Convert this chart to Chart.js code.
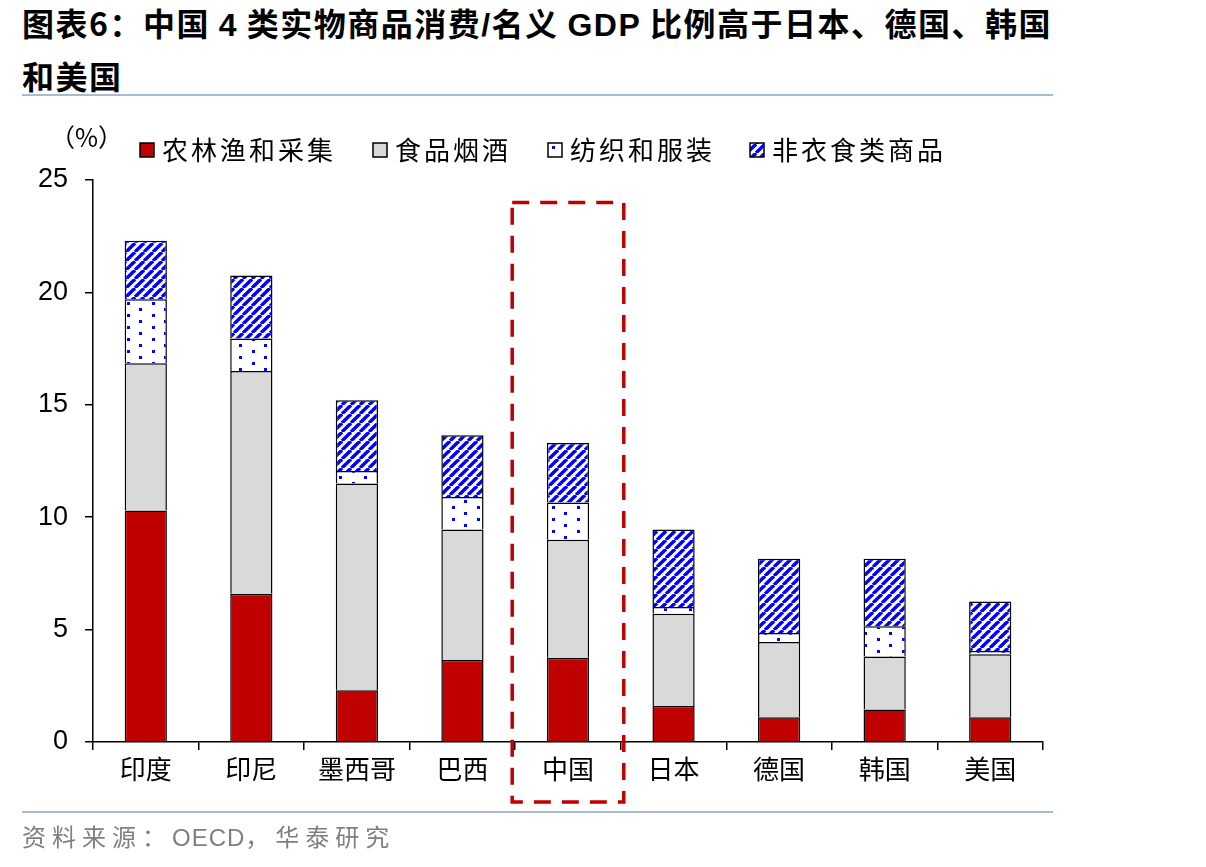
<!DOCTYPE html>
<html>
<head>
<meta charset="utf-8">
<script src="https://cdn.jsdelivr.net/npm/chart.js@4.4.1/dist/chart.umd.min.js"></script>
<style>
  body { margin: 0; background: #fff; width: 1206px; height: 867px; overflow: hidden; position: relative; font-family: "Noto Sans CJK SC", sans-serif; }
  #title { position: absolute; left: 22px; top: -3px; font-size: 32px; font-weight: bold; line-height: 50px; color: #000; letter-spacing: 1.5px; white-space: nowrap; }
  #title .lat { font-family: "Liberation Sans", Arial, sans-serif; }
  .rule { position: absolute; left: 22px; width: 1031px; height: 2px; background: #a9bccf; }
  #source { position: absolute; left: 22px; top: 818px; font-size: 24px; color: #7f7f7f; letter-spacing: 6px; }
  #source .lat { font-family: "Liberation Sans", Arial, sans-serif; letter-spacing: 1px; }
  #wrap { position: absolute; left: 0; top: 0; width: 1206px; height: 867px; }
</style>
</head>
<body>
<div id="title">图表6：中国 <span class="lat">4</span> 类实物商品消费<span class="lat">/</span>名义 <span class="lat">GDP</span> 比例高于日本、德国、韩国<br>和美国</div>
<div class="rule" style="top:94px"></div>
<div id="wrap"><canvas id="chart" width="1206" height="867"></canvas></div>
<div class="rule" style="top:811px"></div>
<div id="source">资料来源：<span class="lat">OECD</span>，华泰研究</div>
<script>
var countries = ["印度", "印尼", "墨西哥", "巴西", "中国", "日本", "德国", "韩国", "美国"];
var seriesNames = ["农林渔和采集", "食品烟酒", "纺织和服装", "非衣食类商品"];
var agri    = [10.3, 6.6, 2.3, 3.65, 3.75, 1.6, 1.1, 1.45, 1.1];
var food    = [6.55, 9.9, 9.2, 5.8, 5.25, 4.1, 3.35, 2.35, 2.8];
var textile = [2.85, 1.45, 0.55, 1.45, 1.65, 0.3, 0.4, 1.35, 0.15];
var other   = [2.6, 2.8, 3.15, 2.75, 2.65, 3.45, 3.3, 3.0, 2.2];
var yTicks  = [0, 5, 10, 15, 20, 25];

function stripes() {
    var c = document.createElement("canvas");
    c.width = 9; c.height = 9;
    var g = c.getContext("2d");
    g.fillStyle = "#fff";
    g.fillRect(0, 0, 9, 9);
    g.strokeStyle = "#0000ff";
    g.lineWidth = 3.4;
    [-9, 0, 9].forEach(function (o) {
        g.beginPath();
        g.moveTo(o, 9);
        g.lineTo(o + 9, 0);
        g.stroke();
    });
    return g.createPattern(c, "repeat");
}

function dots() {
    var c = document.createElement("canvas");
    c.width = 25; c.height = 12;
    var g = c.getContext("2d");
    g.fillStyle = "#fff";
    g.fillRect(0, 0, 25, 12);
    g.fillStyle = "#0000ff";
    g.fillRect(2, 2, 3, 3);
    g.fillRect(14, 8, 3, 3);
    return g.createPattern(c, "repeat");
}

var fills = ["#c00000", "#d9d9d9", dots(), stripes()];

var extras = {
    id: "extras",
    afterDraw: function (chart) {
        var ctx = chart.ctx;
        var x = chart.scales.x, y = chart.scales.y;
        ctx.save();
        ctx.fillStyle = "#000";
        ctx.textBaseline = "middle";
        ctx.font = "25px 'Noto Sans CJK SC'";
        ctx.fillText("（%）", 50, 137);
        var lx = [140, 373, 548, 750];
        seriesNames.forEach(function (name, i) {
            ctx.fillStyle = fills[i];
            ctx.fillRect(lx[i], 143, 14, 14);
            ctx.strokeStyle = "#000";
            ctx.lineWidth = 1.5;
            ctx.strokeRect(lx[i], 143, 14, 14);
            ctx.fillStyle = "#000";
            ctx.font = "26px 'Noto Sans CJK SC'";
            ctx.letterSpacing = "3px";
            ctx.fillText(name, lx[i] + 22, 150);
            ctx.letterSpacing = "0px";
        });
        // dashed box round China
        var cx = x.getPixelForValue(4);
        var half = (x.getPixelForValue(1) - x.getPixelForValue(0)) / 2 + 3;
        ctx.strokeStyle = "#c00000";
        ctx.lineWidth = 3.5;
        ctx.setLineDash([17, 11]);
        ctx.strokeRect(cx - half, y.getPixelForValue(24), half * 2, chart.chartArea.bottom + 60 - y.getPixelForValue(24));
        ctx.restore();
    }
};

new Chart(document.getElementById("chart"), {
    type: "bar",
    data: {
        labels: countries,
        datasets: [agri, food, textile, other].map(function (d, i) {
            return {
                label: seriesNames[i],
                data: d,
                backgroundColor: fills[i],
                borderColor: "#000",
                borderWidth: 1.5,
                categoryPercentage: 0.4,
                barPercentage: 1.0
            };
        })
    },
    options: {
        responsive: false,
        animation: false,
        layout: { padding: { left: 30, top: 180, right: 163, bottom: 65 } },
        plugins: { legend: { display: false }, tooltip: { enabled: false } },
        scales: {
            x: {
                stacked: true,
                afterFit: function (s) { s.height = 60; },
                grid: { display: true, drawOnChartArea: false, offset: true, tickLength: 8, color: "#000", lineWidth: 1.5 },
                border: { color: "#000", width: 1.5 },
                ticks: { color: "#000", font: { size: 26, family: "'Noto Sans CJK SC'" }, padding: 4 }
            },
            y: {
                stacked: true,
                min: 0,
                max: 25,
                afterFit: function (s) { s.width = 63; },
                afterBuildTicks: function (s) { s.ticks = yTicks.map(function (v) { return { value: v }; }); },
                grid: { display: true, drawOnChartArea: false, tickLength: 8, color: "#000", lineWidth: 1.5 },
                border: { color: "#000", width: 1.5 },
                ticks: { color: "#000", font: { size: 27, family: "'Liberation Sans', Arial" }, padding: 17 }
            }
        }
    },
    plugins: [extras]
});
</script>
</body>
</html>
